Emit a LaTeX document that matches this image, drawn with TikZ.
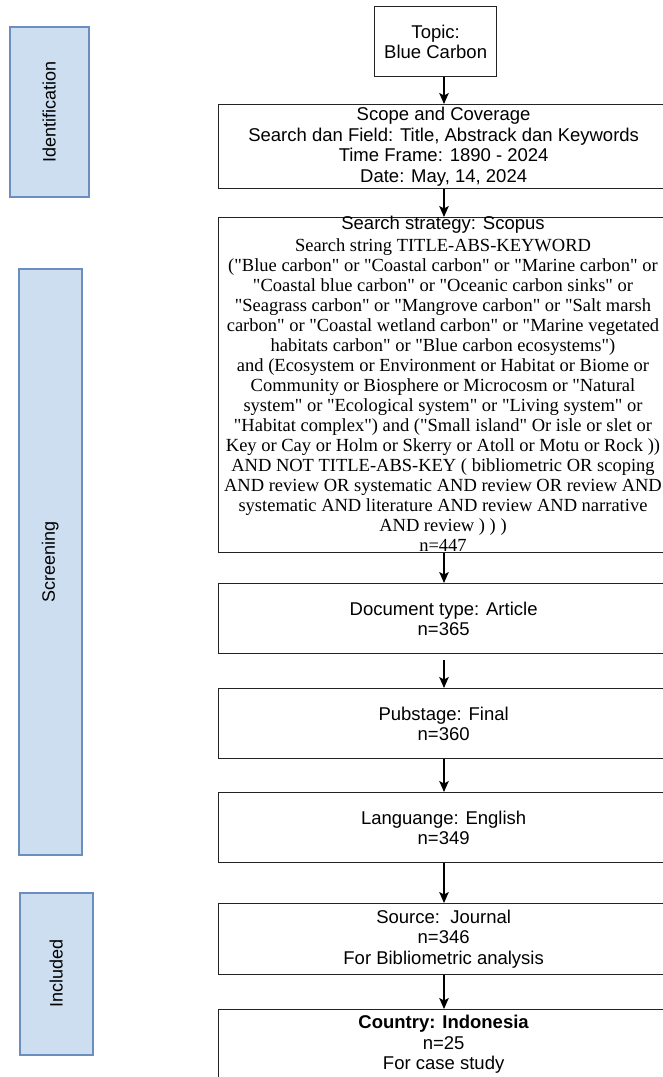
\documentclass[tikz,border=0pt]{standalone}
\usepackage{fontspec}
\setmainfont{Liberation Sans}
\newfontfamily\serifface{Liberation Serif}
\usetikzlibrary{arrows.meta}
\definecolor{phasefill}{RGB}{205,222,240}
\definecolor{phaseline}{RGB}{108,142,191}
\definecolor{boxline}{RGB}{35,35,35}
\begin{document}
\begin{tikzpicture}[x=1pt,y=-1pt,
  phase/.style={draw=phaseline, fill=phasefill, line width=1.6pt, inner sep=0pt, anchor=north west},
  phaselabel/.style={rotate=90, inner sep=0pt, font=\fontsize{18}{20}\selectfont},
  stepbox/.style={draw=boxline, line width=1.3pt, inner sep=0pt, anchor=north west,
    align=center, minimum width=450pt, font=\fontsize{18.5}{20.5}\selectfont},
  flow/.style={draw=black, line width=1.3pt, -{Stealth[length=11pt,width=9.5pt,inset=2.5pt]}}]
\useasboundingbox (0,0) rectangle (663,1077);
\clip (0,0) rectangle (663,1077);
\fill[white] (0,0) rectangle (663,1077);

% phase bars on the left
\node[phase, minimum width=79pt, minimum height=170pt] (ident) at (9,26) {};
\node[phaselabel] (identlbl) at (ident.center) {Identification};
\node[phase, minimum width=63pt, minimum height=586pt] (screen) at (18,268) {};
\node[phaselabel] (screenlbl) at (screen.center) {Screening};
\node[phase, minimum width=73pt, minimum height=162pt] (incl) at (19,892) {};
\node[phaselabel] (incllbl) at (incl.center) {Included};

% flow boxes
\node[stepbox, minimum width=122pt, minimum height=70pt] (topic) at (374,6) {Topic:\\Blue Carbon};
\node[stepbox, minimum height=84pt] (scope) at (218,104)
  {Scope and Coverage\\Search dan Field: Title, Abstrack dan Keywords\\Time Frame: 1890 - 2024\\Date: May, 14, 2024};
\node[stepbox, minimum height=335pt] (search) at (218,217) {};
\node[anchor=base, inner sep=0pt, font=\fontsize{18.5}{20}\selectfont] (strat) at (443,229.5) {Search strategy: Scopus};
\node[anchor=north, inner sep=0pt, align=center, font=\serifface\fontsize{18.5}{20}\selectfont] (query) at (443,238.1)
  {Search string TITLE-ABS-KEYWORD\\
   ("Blue carbon" or "Coastal carbon" or "Marine carbon" or\\
   "Coastal blue carbon" or "Oceanic carbon sinks" or\\
   "Seagrass carbon" or "Mangrove carbon" or "Salt marsh\\
   carbon" or "Coastal wetland carbon" or "Marine vegetated\\
   habitats carbon" or "Blue carbon ecosystems")\\
   and (Ecosystem or Environment or Habitat or Biome or\\
   Community or Biosphere or Microcosm or "Natural\\
   system" or "Ecological system" or "Living system" or\\
   "Habitat complex") and ("Small island" Or isle or slet or\\
   Key or Cay or Holm or Skerry or Atoll or Motu or Rock ))\\
   AND NOT TITLE-ABS-KEY ( bibliometric OR scoping\\
   AND review OR systematic AND review OR review AND\\
   systematic AND literature AND review AND narrative\\
   AND review ) ) )\\
   n=447};
\node[stepbox, minimum height=70pt] (doc) at (218,583) {Document type: Article\\n=365};
\node[stepbox, minimum height=70pt] (pub) at (218,688) {Pubstage: Final\\n=360};
\node[stepbox, minimum height=70pt] (lang) at (218,792) {Languange: English\\n=349};
\node[stepbox, minimum height=71pt] (source) at (218,903) {Source:\ \ Journal\\n=346\\For Bibliometric analysis};
\node[stepbox, minimum height=70pt] (country) at (218,1009) {\textbf{Country: Indonesia}\\n=25\\For case study};

% connectors
\coordinate (ax) at (444,0);
\path (doc.south -| ax) ++(0,6) coordinate (docgap);
\draw[flow] (topic.south -| ax) -- (scope.north -| ax);
\draw[flow] (scope.south -| ax) -- (search.north -| ax);
\draw[flow] (search.south -| ax) -- (doc.north -| ax);
\draw[flow] (docgap) -- (pub.north -| ax);
\draw[flow] (pub.south -| ax) -- (lang.north -| ax);
\draw[flow] (lang.south -| ax) -- (source.north -| ax);
\draw[flow] (source.south -| ax) -- (country.north -| ax);
\end{tikzpicture}
\end{document}
